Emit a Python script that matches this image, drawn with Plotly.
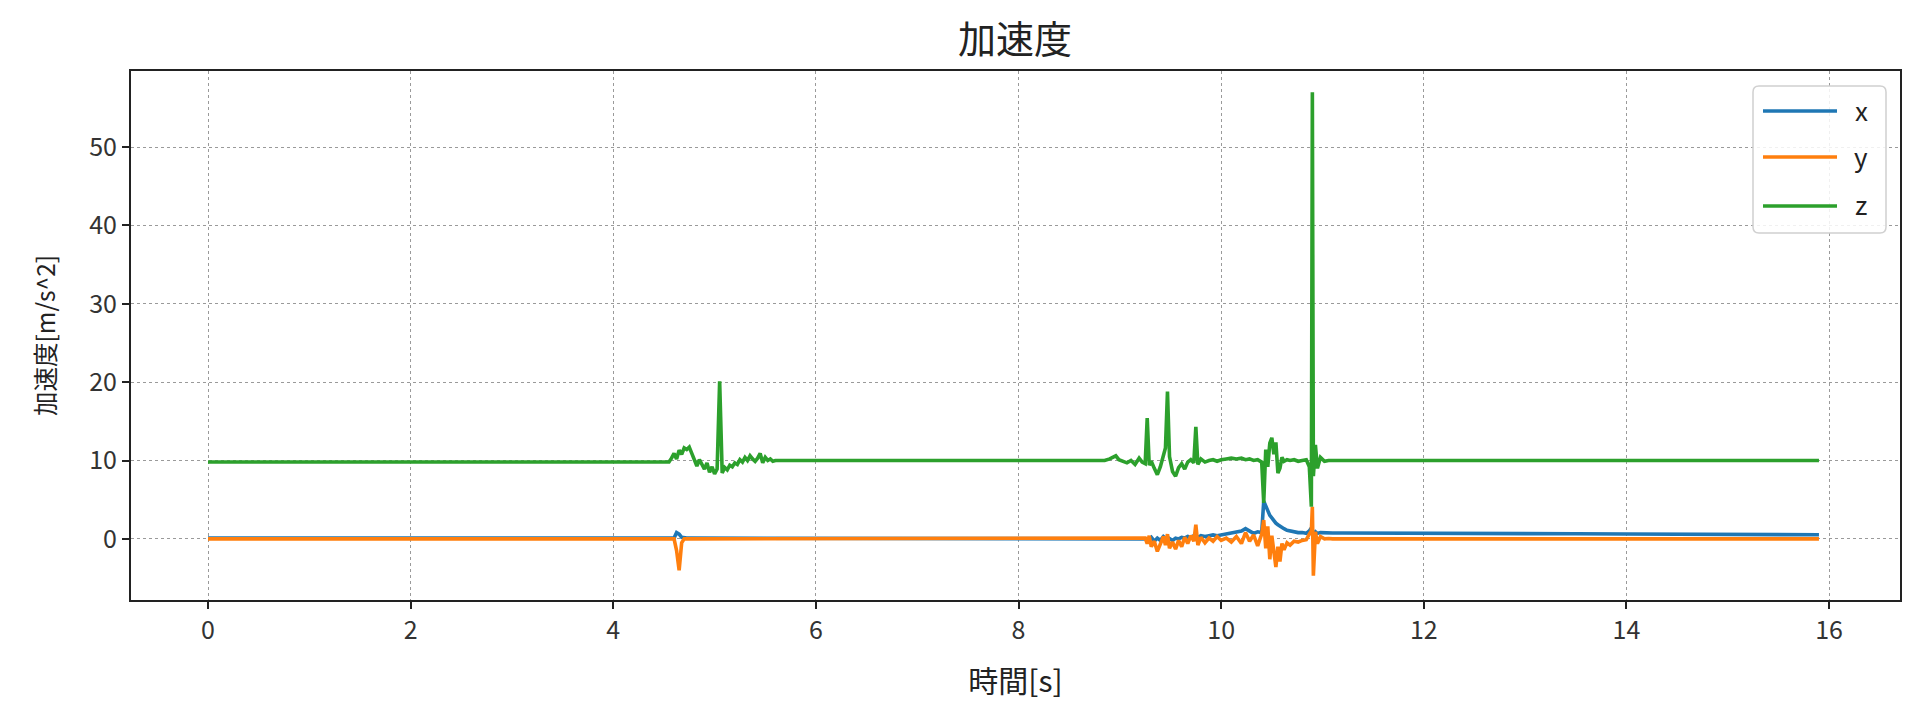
import plotly.graph_objects as go

# time [s]
t = [0.0, 0.5, 1.0, 1.5, 2.0, 2.5, 3.0, 3.5, 4.0, 4.5,
     4.55, 4.575, 4.6, 4.625, 4.65, 4.675, 4.7, 4.725, 4.75, 4.775,
     4.8, 4.825, 4.85, 4.875, 4.9, 4.925, 4.95, 4.975, 5.0, 5.025,
     5.05, 5.075, 5.1, 5.125, 5.15, 5.175, 5.2, 5.225, 5.25, 5.275,
     5.3, 5.325, 5.35, 5.375, 5.4, 5.425, 5.45, 5.475, 5.5, 5.525,
     5.55, 5.575, 5.6,
     5.7, 6.0, 6.5, 7.0, 7.5, 8.0, 8.5, 8.8,
     8.85, 8.9, 8.93, 8.96, 8.99, 9.03, 9.07, 9.11, 9.15, 9.19,
     9.22, 9.25, 9.27, 9.29, 9.31, 9.34, 9.37, 9.40, 9.43, 9.45,
     9.47, 9.49, 9.52, 9.55, 9.58, 9.61, 9.64, 9.67, 9.70, 9.73,
     9.75, 9.77, 9.80, 9.84, 9.88, 9.92, 9.96, 10.00, 10.05, 10.10,
     10.15, 10.20, 10.24, 10.28, 10.32, 10.36, 10.40, 10.42, 10.44, 10.46,
     10.48, 10.50, 10.52, 10.54, 10.56, 10.58, 10.60, 10.62, 10.65, 10.68,
     10.72, 10.76, 10.80, 10.84, 10.87, 10.89, 10.90, 10.91, 10.93, 10.95,
     10.98, 11.02, 11.06, 11.10,
     11.2, 11.5, 12.0, 12.5, 13.0, 13.5, 14.0, 14.5, 15.0, 15.5, 15.9]

acc_x = [0.1, 0.1, 0.1, 0.1, 0.1, 0.1, 0.1, 0.1, 0.1, 0.1,
         0.1, 0.1, 0.1, 0.8, 0.6, 0.2, 0.1, 0.1, 0.1, 0.1,
         0.1, 0.1, 0.1, 0.1, 0.1, 0.1, 0.1, 0.1, 0.1, 0.1,
         0.1, 0.1, 0.1, 0.1, 0.1, 0.1, 0.1, 0.1, 0.1, 0.1,
         0.1, 0.1, 0.1, 0.1, 0.1, 0.1, 0.1, 0.1, 0.1, 0.1,
         0.1, 0.1, 0.1,
         0.1, 0.1, 0.1, 0.1, 0.1, 0.1, 0.1, 0.1,
         0.1, 0.1, 0.1, 0.1, 0.1, 0.1, 0.1, 0.1, 0.1, 0.1,
         0.1, 0.1, 0.1, 0.0, 0.2, -0.3, 0.1, -0.2, 0.3, 0.1,
         0.2, 0.0, -0.2, 0.1, 0.0, 0.2, 0.1, 0.3, 0.2, 0.4,
         0.3, 0.2, 0.4, 0.3, 0.4, 0.5, 0.4, 0.5, 0.6, 0.7,
         0.8, 1.0, 1.3, 1.0, 0.7, 0.9, 0.8, 4.8, 4.3, 3.6,
         3.0, 2.6, 2.3, 2.0, 1.8, 1.6, 1.4, 1.3, 1.1, 1.0,
         0.9, 0.8, 0.8, 0.7, 1.0, 1.4, 0.9, 0.6, 0.9, 0.7,
         0.8, 0.75, 0.75, 0.75,
         0.75, 0.75, 0.72, 0.7, 0.68, 0.65, 0.62, 0.6, 0.57, 0.55, 0.52]

acc_y = [0.0, 0.0, 0.0, 0.0, 0.0, 0.0, 0.0, 0.0, 0.0, 0.0,
         0.0, 0.0, 0.0, -1.5, -4.0, -0.5, 0.0, 0.0, 0.0, 0.0,
         0.0, 0.0, 0.0, 0.0, 0.0, 0.0, 0.0, 0.0, 0.0, 0.0,
         0.0, 0.0, 0.0, 0.0, 0.0, 0.0, 0.0, 0.0, 0.0, 0.0,
         0.0, 0.0, 0.0, 0.0, 0.0, 0.0, 0.0, 0.0, 0.0, 0.0,
         0.0, 0.0, 0.0,
         0.05, 0.05, 0.05, 0.05, 0.05, 0.05, 0.05, 0.05,
         0.0, 0.0, 0.0, 0.0, 0.0, 0.0, 0.0, 0.0, 0.0, 0.0,
         0.0, 0.1, -0.6, 0.4, -1.0, -0.3, -1.6, -0.5, 0.3, -0.8,
         0.6, -1.2, -0.4, -1.3, -0.2, -1.0, 0.2, -0.6, 0.4, -0.3,
         1.8, -0.8, 0.2, -0.5, 0.1, -0.3, 0.3, -0.2, 0.1, -0.4,
         0.3, -0.6, 0.8, -0.3, 0.5, -0.9, 0.6, 2.4, -1.2, 1.6,
         -2.6, 0.4, -1.8, -3.6, -1.0, -2.9, -0.6, -1.4, -0.5, -0.8,
         -0.3, -0.4, -0.2, -0.1, 0.6, 1.0, 4.1, -4.7, 0.9, -0.6,
         0.3, 0.0, 0.05, 0.0,
         0.0, 0.0, 0.0, 0.0, 0.0, 0.0, 0.0, 0.0, 0.0, 0.0, 0.0]

acc_z = [9.8, 9.8, 9.8, 9.8, 9.8, 9.8, 9.8, 9.8, 9.8, 9.8,
         9.8, 10.3, 10.9, 10.2, 11.3, 10.8, 11.6, 11.4, 11.7, 10.9,
         10.2, 9.3, 10.1, 9.6, 8.9, 9.7, 8.5, 9.2, 8.3, 8.9,
         20.1, 8.4, 9.1, 8.8, 9.4, 9.2, 9.7, 9.5, 10.1, 9.8,
         10.4, 10.0, 10.6, 10.2, 9.9, 10.3, 10.9, 9.7, 10.4, 10.0,
         10.2, 9.9, 10.0,
         10.0, 10.0, 9.95, 10.0, 10.0, 9.95, 10.0, 10.0,
         10.0, 10.2, 10.4, 10.6, 10.1, 9.9, 9.7, 10.0, 9.5, 10.3,
         9.8, 9.6, 15.4, 9.4, 9.9, 9.0, 8.2, 9.2, 10.8, 11.6,
         18.8, 10.5, 8.6, 8.0, 9.1, 9.6, 8.9, 9.8, 10.1, 9.7,
         14.3, 9.5, 10.2, 9.8, 10.0, 10.1, 9.9, 10.1, 10.2, 10.3,
         10.2, 10.3, 10.1, 10.2, 10.0, 10.1, 9.8, 4.6, 11.4, 9.2,
         12.2, 12.9, 10.8, 12.3, 8.4, 9.0, 10.4, 9.9, 10.1, 10.0,
         10.1, 9.9, 10.0, 10.1, 9.2, 4.1, 57.0, 8.0, 12.0, 9.0,
         10.4, 9.9, 10.0, 10.0,
         10.0, 10.0, 10.0, 10.0, 10.0, 10.0, 10.0, 10.0, 10.0, 10.0, 10.0]

x_ticks = [0, 2, 4, 6, 8, 10, 12, 14, 16]
y_ticks = [0, 10, 20, 30, 40, 50]

FONT = "Noto Sans CJK JP"
colors = ["#1f77b4", "#ff7f0e", "#2ca02c"]
names = ["x", "y", "z"]
series = [acc_x, acc_y, acc_z]

# plot area in screen pixels (page has 8px body margin)
PL, PR, PT, PB = 131, 1900, 71, 600
PW, PH = PR - PL, PB - PT


def px(X):
    return (X - PL) / PW


def py(Y):
    return (PB - Y) / PH


fig = go.Figure()
for name, vals, col in zip(names, series, colors):
    fig.add_trace(go.Scatter(x=t, y=vals, mode="lines", name=name,
                             showlegend=False,
                             line=dict(color=col, width=3.6)))

axis_common = dict(
    showline=True, linecolor="#222", linewidth=2, mirror=True,
    ticks="outside", ticklen=7, tickwidth=2, tickcolor="#222",
    showgrid=True, gridcolor="#9a9a9a", gridwidth=1.3, griddash="dot",
    zeroline=False, automargin=False,
    tickfont=dict(family=FONT, size=25, color="#333"),
)

# legend drawn as box + sample lines + labels
bx0, bx1, by0, by1, r = 1753, 1886, 86, 233, 6
x0, x1 = px(bx0), px(bx1)
y0, y1 = py(by1), py(by0)
rx, ry = r / PW, r / PH
box_path = (f"M{x0+rx},{y0} L{x1-rx},{y0} Q{x1},{y0} {x1},{y0+ry} "
            f"L{x1},{y1-ry} Q{x1},{y1} {x1-rx},{y1} L{x0+rx},{y1} "
            f"Q{x0},{y1} {x0},{y1-ry} L{x0},{y0+ry} Q{x0},{y0} {x0+rx},{y0} Z")
shapes = [dict(type="path", path=box_path, xref="paper", yref="paper",
               line=dict(color="#d0d0d0", width=1.5),
               fillcolor="rgba(255,255,255,0.85)", layer="above")]
annotations = []
row_y = [111, 157, 206]
for name, col, ry_ in zip(names, colors, row_y):
    shapes.append(dict(type="line", xref="paper", yref="paper",
                       x0=px(1763), x1=px(1837), y0=py(ry_), y1=py(ry_),
                       line=dict(color=col, width=3.6), layer="above"))
    annotations.append(dict(text=name, xref="paper", yref="paper",
                            x=px(1861), y=py(ry_ - 2), xanchor="center", yanchor="middle",
                            showarrow=False,
                            font=dict(family=FONT, size=26, color="#222")))

fig.update_layout(
    width=1920, height=719,
    margin=dict(l=PL - 8, r=1920 + 8 - PR, t=PT - 8, b=719 + 8 - PB),
    paper_bgcolor="white", plot_bgcolor="white",
    title=dict(text="加速度", x=0.5245, xanchor="center", y=0.9555, yanchor="middle",
               font=dict(family=FONT, size=38, color="#222")),
    xaxis=dict(range=[-0.76, 16.70], tickvals=x_ticks,
               title=dict(text="時間[s]", standoff=26,
                          font=dict(family=FONT, size=30, color="#222")),
               **axis_common),
    yaxis=dict(range=[-7.8, 59.7], tickvals=y_ticks,
               title=dict(text="加速度[m/s^2]", standoff=27,
                          font=dict(family=FONT, size=24.5, color="#222")),
               **axis_common),
    shapes=shapes,
    annotations=annotations,
    showlegend=False,
)

fig.write_html("out.html")
